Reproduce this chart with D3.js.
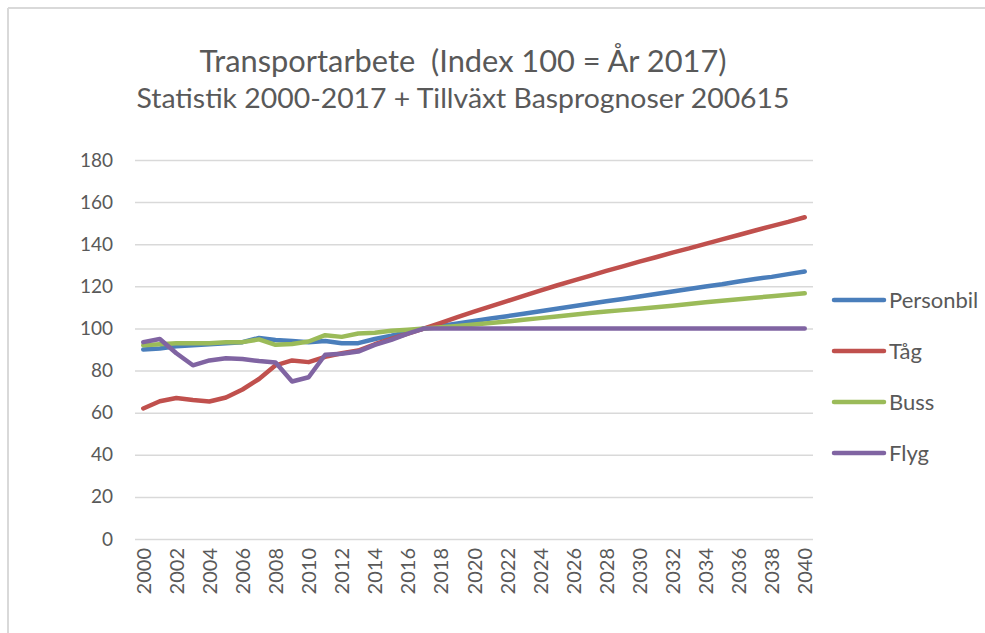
<!DOCTYPE html>
<html>
<head>
<meta charset="utf-8">
<script src="https://cdn.jsdelivr.net/npm/d3@7"></script>
<style>
  html, body { margin: 0; padding: 0; background: #ffffff; }
  svg { display: block; }
</style>
</head>
<body>
<svg id="chart" width="985" height="633"></svg>
<script>
// ---- Data ----
const years = d3.range(2000, 2041);
const seriesNames = ["Personbil", "Tåg", "Buss", "Flyg"];
const seriesColors = ["#4a7ebb", "#c0504d", "#9bbb59", "#8064a2"];

const personbil = [90, 90.5, 91.5, 92, 92.5, 93, 93.5, 95.5, 94.5, 94, 93.5, 94, 93, 93, 95, 96.5, 98.3, 100,
  101.2, 102.3, 103.5, 104.7, 105.8, 107, 108.2, 109.4, 110.5, 111.7, 112.9, 114, 115.2, 116.4, 117.5, 118.7, 119.9, 121, 122.3, 123.5, 124.5, 125.8, 127];
const tag = [62, 65.4, 67, 66, 65.3, 67.2, 71, 76, 82.5, 84.8, 84, 86.5, 88.2, 89.5, 92.5, 95, 97.5, 100,
  102.7, 105.4, 108, 110.5, 113, 115.5, 118, 120.4, 122.7, 125, 127.3, 129.5, 131.7, 133.8, 136, 138, 140.2, 142.3, 144.4, 146.5, 148.6, 150.6, 152.8];
const buss = [92, 92.5, 93, 93, 93, 93.5, 93.5, 94.8, 92.2, 92.6, 93.8, 96.8, 96, 97.6, 98, 98.9, 99.4, 100,
  100.6, 101.2, 101.9, 102.6, 103.3, 104.1, 104.9, 105.7, 106.5, 107.3, 108, 108.7, 109.4, 110.1, 110.8, 111.6, 112.4, 113.2, 113.9, 114.6, 115.3, 116, 116.7];
const flyg = [93.5, 95, 88.2, 82.5, 84.8, 85.8, 85.5, 84.5, 83.8, 74.8, 76.8, 87.5, 88, 89, 92.2, 94.6, 97.5, 100,
  100, 100, 100, 100, 100, 100, 100, 100, 100, 100, 100, 100, 100, 100, 100, 100, 100, 100, 100, 100, 100, 100, 100];
const seriesValues = [personbil, tag, buss, flyg];

const yTicks = [0, 20, 40, 60, 80, 100, 120, 140, 160, 180];
const xTickYears = years.filter(y => y % 2 === 0);

const titleText = "Transportarbete  (Index 100 = År 2017)";
const subtitleText = "Statistik 2000-2017 + Tillväxt Basprognoser 200615";

// ---- Layout ----
const svg = d3.select("#chart");
const plot = { left: 135, right: 813, top: 160, bottom: 539 };
const textColor = "#595959";
const gridColor = "#d9d9d9";
const font = "Lato, 'Open Sans', sans-serif";

// frame lines (top and left)
svg.append("line").attr("x1", 8).attr("x2", 985).attr("y1", 8).attr("y2", 8)
  .attr("stroke", "#d9d9d9").attr("stroke-width", 2);
svg.append("line").attr("x1", 8).attr("x2", 8).attr("y1", 8).attr("y2", 633)
  .attr("stroke", "#d9d9d9").attr("stroke-width", 2);

const x = d3.scalePoint().domain(years).range([plot.left, plot.right]).padding(0.5);
const y = d3.scaleLinear().domain([0, 180]).range([plot.bottom, plot.top]);

// Title
svg.append("text").attr("x", 463).attr("y", 72).attr("text-anchor", "middle")
  .attr("font-family", font).attr("font-size", 30).attr("fill", textColor)
  .style("white-space", "pre")
  .attr("textLength", 527).attr("lengthAdjust", "spacingAndGlyphs").text(titleText);
svg.append("text").attr("x", 463).attr("y", 108).attr("text-anchor", "middle")
  .attr("font-family", font).attr("font-size", 26).attr("fill", textColor)
  .attr("textLength", 653).attr("lengthAdjust", "spacingAndGlyphs").text(subtitleText);

// gridlines
const yAxis = d3.axisLeft(y).tickValues(yTicks).tickSize(-(plot.right - plot.left)).tickPadding(22);
const gy = svg.append("g").attr("transform", `translate(${plot.left},0)`).call(yAxis);
gy.select(".domain").remove();
gy.selectAll(".tick line").attr("stroke", gridColor).attr("stroke-width", 1.5);
gy.selectAll(".tick text").attr("font-family", font).attr("font-size", 19).attr("fill", textColor);

// x axis labels
const xAxis = d3.axisBottom(x).tickValues(xTickYears).tickSize(0).tickPadding(0).tickFormat(d3.format("d"));
const gx = svg.append("g").attr("transform", `translate(0,${plot.bottom})`).call(xAxis);
gx.select(".domain").remove();
gx.selectAll(".tick text")
  .attr("font-family", font).attr("font-size", 20).attr("fill", textColor)
  .attr("transform", "rotate(-90)")
  .attr("text-anchor", "end")
  .attr("x", -9).attr("y", 0).attr("dy", "0.35em");

// lines
const line = d3.line().x((d, i) => x(years[i])).y(d => y(d));
seriesValues.forEach((vals, k) => {
  svg.append("path").datum(vals)
    .attr("fill", "none").attr("stroke", seriesColors[k])
    .attr("stroke-width", 4.5).attr("stroke-linejoin", "round").attr("stroke-linecap", "round")
    .attr("d", line);
});

// legend
const legendY = [300, 351, 402, 453];
seriesNames.forEach((name, k) => {
  svg.append("line").attr("x1", 834).attr("x2", 884).attr("y1", legendY[k]).attr("y2", legendY[k])
    .attr("stroke", seriesColors[k]).attr("stroke-width", 4.5).attr("stroke-linecap", "round");
  svg.append("text").attr("x", 889).attr("y", legendY[k]).attr("dy", "0.35em")
    .attr("font-family", font).attr("font-size", 22).attr("fill", textColor).text(name);
});
</script>
</body>
</html>
